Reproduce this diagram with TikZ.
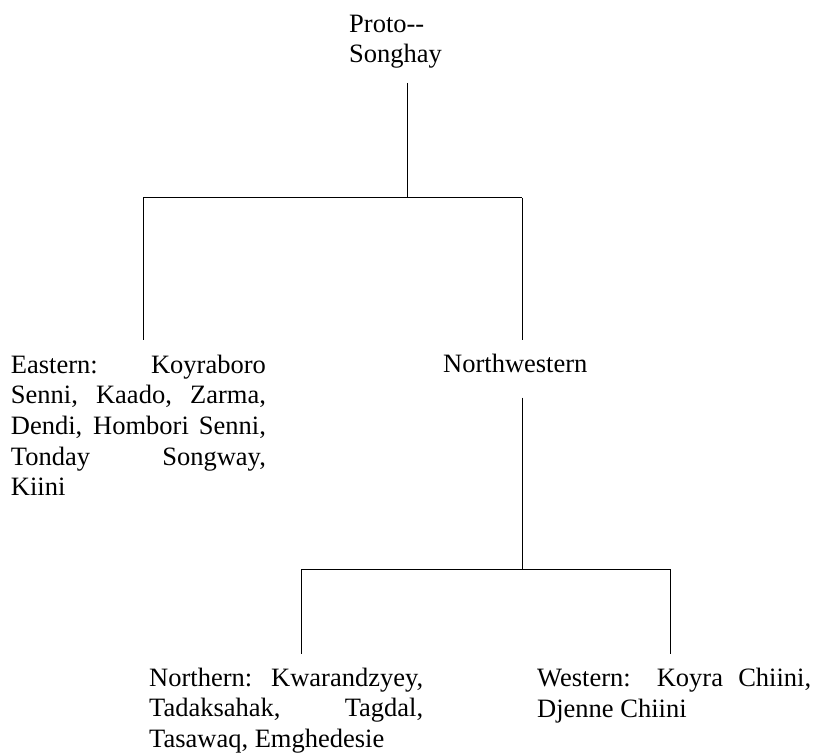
\documentclass[tikz,border=0pt]{standalone}
\usepackage{fontspec}
\setmainfont{Liberation Serif}
\usepackage{tikz}
\usetikzlibrary{positioning}
\setlength{\parindent}{0pt}
\hbadness=10000

\tikzset{
  lang/.style={anchor=north west, inner sep=0pt, align=justify,
    font=\fontsize{26.5}{30.6}\selectfont,
    execute at begin node=\strut, execute at end node=\strut},
  branch/.style={line width=1pt}
}

\begin{document}
\begin{tikzpicture}[x=1pt,y=-1pt]
\useasboundingbox (0,0) rectangle (814,754);

\node[lang,align=left,text width=116pt](proto) at (349,10.6) {Proto-{}-\\Songhay};
\node[lang,text width=255pt](eastern) at (10.7,351.6) {Eastern: Koyraboro\linebreak Senni, Kaado, Zarma,\linebreak Dendi, Hombori Senni,\linebreak Tonday Songway,\linebreak Kiini};
\node[lang,align=left](nw) at (443,350.6) {Northwestern};
\node[lang,text width=274pt](northern) at (149,664.6) {Northern: Kwarandzyey,\linebreak Tadaksahak, Tagdal,\linebreak Tasawaq, Emghedesie};
\node[lang,text width=274pt](western) at (537,665) {Western: Koyra Chiini,\linebreak Djenne Chiini};

\coordinate (top1) at (407,198);
\coordinate (e1) at (143.3,198);
\coordinate (n1) at (522.3,198);
\coordinate (m1) at (522.3,569);
\coordinate (w1) at (301.7,569);
\coordinate (w2) at (670,569);

% upper fork
\draw[branch,shorten <=10.8pt] (top1 |- proto.south) -- (top1);
\draw[branch] (e1) -- (n1);
\draw[branch,shorten >=11.6pt] (e1) -- (e1 |- eastern.north);
\draw[branch,shorten >=10.6pt] (n1) -- (n1 |- nw.north);

% lower fork
\draw[branch,shorten <=16pt] (m1 |- nw.south) -- (m1);
\draw[branch] (w1) -- (w2);
\draw[branch,shorten >=10.3pt] (w1) -- (w1 |- northern.north);
\draw[branch,shorten >=10.7pt] (w2) -- (w2 |- western.north);

\end{tikzpicture}
\end{document}
